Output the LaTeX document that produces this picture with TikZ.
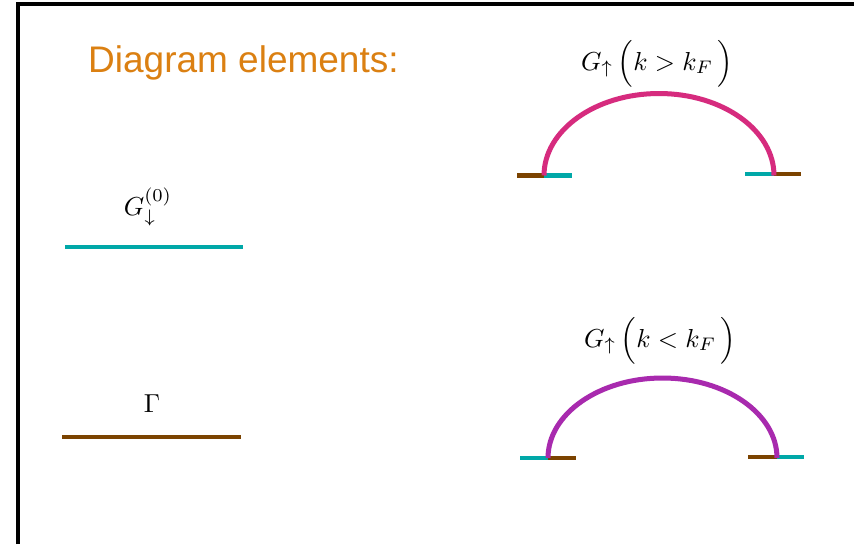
\documentclass[tikz,border=0pt]{standalone}
\usepackage{fontspec}
\newfontfamily\titlefont{Liberation Sans}
\definecolor{orangetxt}{HTML}{DB8012}
\definecolor{tealc}{HTML}{00A8A8}
\definecolor{brownc}{HTML}{7B4300}
\definecolor{magc}{HTML}{D62B7E}
\definecolor{purc}{HTML}{A82AAE}
\tikzset{
  lbl/.style={inner sep=0pt, anchor=base, font=\fontsize{10}{12}\selectfont, scale=2.6, transform shape},
  seg/.style={line width=4.5pt},
  arcline/.style={line width=5pt},
}
\begin{document}
\begin{tikzpicture}[x=1pt,y=-1pt]
\useasboundingbox (0,0) rectangle (854,544);
\fill[white] (0,0) rectangle (854,544);
% frame
\draw[line width=4pt] (18,544) -- (18,4) -- (854,4);
% title
\node[inner sep=0pt, anchor=base west, text=orangetxt, font=\titlefont\fontsize{37}{40}\selectfont] (title) at (88,72) {Diagram elements:};
% G down (0)
\node[lbl] (gdl) at (148,215) {$G_{\downarrow}^{(0)}$};
\coordinate (ga) at (65,247);
\coordinate (gb) at (243,247);
\draw[seg, tealc] (ga) -- (gb);
% Gamma
\node[lbl] (gml) at (152,412) {$\Gamma$};
\coordinate (ma) at (62,437);
\coordinate (mb) at (241,437);
\draw[seg, brownc] (ma) -- (mb);
% top arc
\node[lbl] (t1) at (657,70) {$G_{\uparrow}\,\Bigl(k>k_F\,\Bigr)$};
\coordinate (a0) at (517,175.5);
\coordinate (a1) at (544,175.5);
\coordinate (a2) at (572,175.5);
\coordinate (b0) at (745,174);
\coordinate (b1) at (774,174);
\coordinate (b2) at (801,174);
\draw[seg, brownc] (a0) -- (a1);
\draw[seg, tealc] (a1) -- (a2);
\draw[seg, tealc] (b0) -- (b1);
\draw[seg, brownc] (b1) -- (b2);
\draw[arcline, magc] (a1) arc[start angle=180, end angle=360, x radius=115, y radius=82];
% bottom arc
\node[lbl] (t2) at (660,347) {$G_{\uparrow}\,\Bigl(k<k_F\,\Bigr)$};
\coordinate (c0) at (520,458);
\coordinate (c1) at (548,458);
\coordinate (c2) at (576,458);
\coordinate (d0) at (748,457);
\coordinate (d1) at (777,457);
\coordinate (d2) at (804,457);
\draw[seg, tealc] (c0) -- (c1);
\draw[seg, brownc] (c1) -- (c2);
\draw[seg, brownc] (d0) -- (d1);
\draw[seg, tealc] (d1) -- (d2);
\draw[arcline, purc] (c1) arc[start angle=180, end angle=360, x radius=114.5, y radius=80];
\end{tikzpicture}
\end{document}
